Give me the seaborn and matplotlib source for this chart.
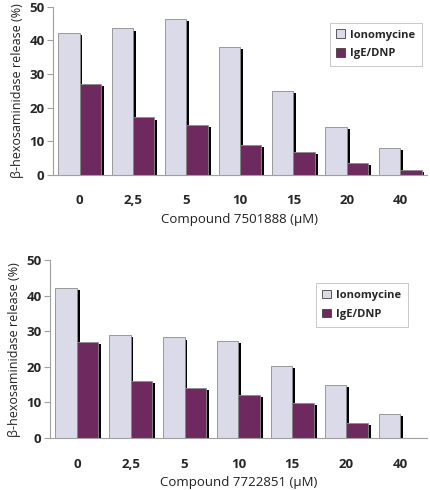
import numpy as np
import pandas as pd
import matplotlib
matplotlib.use('Agg')
import matplotlib.pyplot as plt
import matplotlib.patheffects as pe
from matplotlib.ticker import FixedLocator
import seaborn as sns

# ──────────────────────────────────────────────────────────────────────
# Data
# ──────────────────────────────────────────────────────────────────────
concentrations = ['0', '2,5', '5', '10', '15', '20', '40']
series_names = ['Ionomycine', 'IgE/DNP']

iono_7501888 = [42.3, 43.6, 46.5, 38.2, 25.1, 14.2, 8.1]
ige_7501888 = [27.0, 17.1, 14.9, 9.0, 6.8, 3.6, 1.4]

iono_7722851 = [42.3, 29.0, 28.3, 27.3, 20.2, 14.9, 6.9]
ige_7722851 = [27.0, 16.0, 14.1, 12.2, 9.9, 4.3, np.nan]

compounds = ['7501888', '7722851']

# ──────────────────────────────────────────────────────────────────────
# Style
# ──────────────────────────────────────────────────────────────────────
sns.set_style('white')
plt.rcParams['font.family'] = ['Open Sans', 'DejaVu Sans']
plt.rcParams['font.size'] = 9

palette = {'Ionomycine': '#D9D7EB', 'IgE/DNP': '#7A1D66'}
shadow = [pe.SimplePatchShadow(offset=(2.0, -1.6), shadow_rgbFace='black', alpha=1.0),
          pe.Normal()]


def long_frame(iono, ige):
    return pd.DataFrame({
        'conc': concentrations * 2,
        'series': [series_names[0]] * len(iono) + [series_names[1]] * len(ige),
        'value': list(iono) + list(ige),
    })


fig = plt.figure(figsize=(4.3, 4.9), dpi=100)
ax_top = fig.add_axes([0.123, 0.643, 0.870, 0.343])
ax_bot = fig.add_axes([0.116, 0.106, 0.877, 0.363])

panels = [
    (ax_top, long_frame(iono_7501888, ige_7501888), compounds[0], (0.74, 0.905)),
    (ax_bot, long_frame(iono_7722851, ige_7722851), compounds[1], (0.705, 0.87)),
]

for ax, df, comp, leg_pos in panels:
    sns.barplot(data=df, x='conc', y='value', hue='series', order=concentrations,
                hue_order=series_names, palette=palette, width=0.8,
                edgecolor='#8C8C8C', linewidth=0.6, ax=ax)
    for patch in ax.patches:
        patch.set_path_effects(shadow)

    ax.set_xlim(-0.5, len(concentrations) - 0.5)
    ax.set_ylim(0, 50)
    ax.set_yticks([0, 10, 20, 30, 40, 50])
    ax.xaxis.set_minor_locator(FixedLocator(np.arange(-0.5, len(concentrations), 1)))
    ax.tick_params(axis='x', which='major', length=0, pad=14)
    ax.tick_params(axis='x', which='minor', length=4, color='#A0A0A0', width=0.8)
    ax.tick_params(axis='y', length=4, color='#A0A0A0', width=0.8, pad=2, left=True)
    for lbl in ax.get_xticklabels() + ax.get_yticklabels():
        lbl.set_fontweight('bold')
        lbl.set_fontsize(9.5)

    ax.set_xlabel(f'Compound {comp} (µM)', fontsize=9.5, labelpad=4, color='#202020')
    ax.set_ylabel('β-hexosaminidase release (%)', fontsize=9, color='#202020')

    sns.despine(ax=ax)
    for side in ['left', 'bottom']:
        ax.spines[side].set_color('#A0A0A0')
        ax.spines[side].set_linewidth(0.8)

    leg = ax.legend(loc='upper left', bbox_to_anchor=leg_pos, frameon=True,
                    fancybox=False, edgecolor='#C0C0C0', framealpha=1,
                    handlelength=0.8, handleheight=0.8, handletextpad=0.4,
                    borderpad=0.6, labelspacing=0.7, borderaxespad=0,
                    prop={'weight': 'bold', 'size': 8})
    leg.get_frame().set_linewidth(0.6)
    for h in leg.legend_handles:
        h.set_edgecolor('#404040')
        h.set_linewidth(0.6)
        h.set_path_effects([])

fig.savefig('out.png', dpi=100)
